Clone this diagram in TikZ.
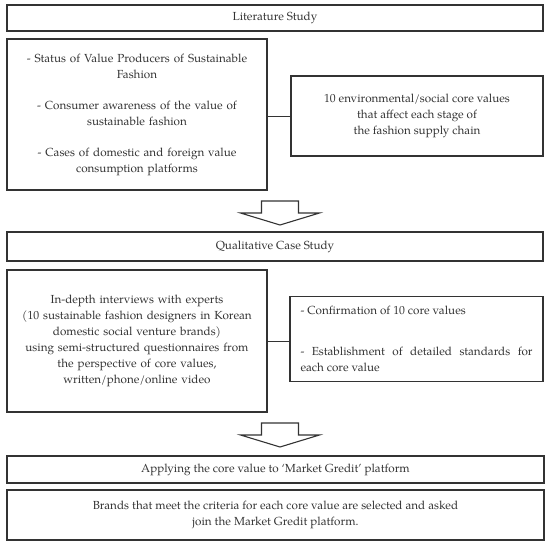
\documentclass[tikz,border=0pt]{standalone}
\usepackage{fontspec}
\setmainfont{texgyrepagella-regular.otf}
\usepackage{tikz}
\usetikzlibrary{positioning}
\definecolor{boxline}{HTML}{333333}
\definecolor{boxtext}{HTML}{333333}
\tikzstyle{headbox} = [rectangle, minimum width=536pt, minimum height=26pt, text centered, draw=boxline, line width=1.1pt, text=boxtext, font=\fontsize{11.7}{16}\selectfont]
\tikzstyle{leftbox} = [rectangle, minimum width=260pt, text width=252pt, align=center, draw=boxline, line width=1.1pt, text=boxtext, font=\fontsize{11.7}{16}\selectfont]
\tikzstyle{rightbox} = [rectangle, minimum width=252pt, draw=boxline, line width=1.1pt, text=boxtext, font=\fontsize{11.7}{16}\selectfont]
\tikzstyle{link} = [line width=0.6pt, draw=boxline]
\tikzstyle{bigarrow} = [line width=1.1pt, draw=boxline, fill=white, line join=miter]
% hollow arrow pointing down, #1 = top centre of the stem
\newcommand{\hollowarrow}[1]{\draw[bigarrow] (#1) ++(-18.5,0) -- ++(0,12) -- ++(-21,0) -- ++(39.5,12) -- ++(39.5,-12) -- ++(-21,0) -- ++(0,-12) -- cycle;}

\begin{document}
\begin{tikzpicture}[x=1pt, y=-1pt]
    \useasboundingbox (0,0) rectangle (550,545);

        % Nodes
        \node (lit) [headbox] at (275,18) {Literature Study};
        \node (litleft) [leftbox, minimum height=151pt] at (137,114.5) {- Status of Value Producers of Sustainable\\ Fashion\\[15pt] - Consumer awareness of the value of\\ sustainable fashion\\[15pt] - Cases of domestic and foreign value\\ consumption platforms};
        \node (litright) [rightbox, minimum height=80pt, align=center] at (417,116) {10 environmental/social core values\\ that affect each stage of\\ the fashion supply chain};

        \node (qual) [headbox, minimum height=29pt] at (275,246.5) {Qualitative Case Study};
        \node (qleft) [leftbox, minimum height=142pt] at (137,341) {In-depth interviews with experts\\ (10 sustainable fashion designers in Korean\\ domestic social venture brands)\\ using semi-structured questionnaires from\\ the perspective of core values,\\ written/phone/online video};
        \node (qright) [rightbox, minimum width=253pt, minimum height=85pt, text width=232pt, align=justify] at (416.5,339) {- Confirmation of 10 core values\\[25pt] - Establishment of detailed standards for\linebreak each core value};

        \node (apply) [headbox, minimum width=537pt, minimum height=27pt] at (275.5,469.5) {Applying the core value to `Market Gredit' platform};
        \node (brands) [headbox, minimum width=537pt, minimum height=50pt, align=center] at (275.5,515) {Brands that meet the criteria for each core value are selected and asked\\ join the Market Gredit platform.};

        % Arrows
        \draw [link] (litleft.east |- litright.west) -- (litright.west);
        \draw [link] (qleft.east) -- (qleft.east -| qright.west);
        \coordinate (arrowA) at (280,201);
        \coordinate (arrowB) at (280,423);
        \hollowarrow{arrowA}
        \hollowarrow{arrowB}

    \end{tikzpicture}
\end{document}
